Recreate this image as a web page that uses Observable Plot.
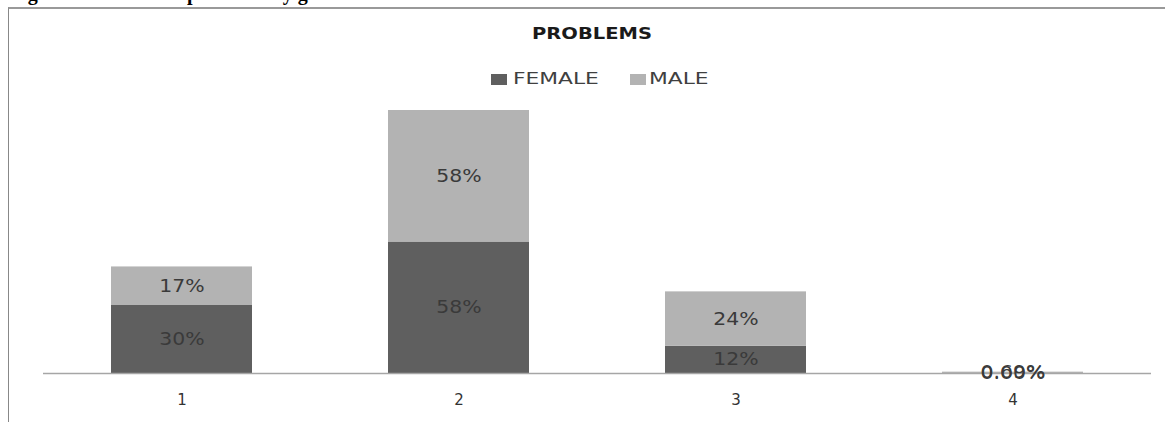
<!DOCTYPE html>
<html>
<head>
<meta charset="utf-8">
<script src="https://cdn.jsdelivr.net/npm/d3@7"></script>
<script src="https://cdn.jsdelivr.net/npm/@observablehq/plot@0.6"></script>
<style>
  html, body { margin: 0; padding: 0; background: #fff; }
  body { width: 1165px; height: 422px; position: relative; overflow: hidden; }
  #caption { position: absolute; left: 10px; top: -17px; font: bold 20px "Liberation Serif", serif; line-height: 20px; color: #000; white-space: nowrap; }
  #frame { position: absolute; left: 8px; top: 7px; width: 1170px; height: 430px; border-top: 2px solid #999; border-left: 1px solid #888; box-sizing: border-box; background: #fff; }
  .stretch { position: absolute; white-space: nowrap; transform-origin: 0 0; }
  #title { left: 532px; top: 27px; font: bold 15px "DejaVu Sans", sans-serif; line-height: 15px; color: #1a1a1a; transform: scaleX(1.3); }
  .legtext { top: 71px; font: 16px "DejaVu Sans", sans-serif; line-height: 16px; color: #404040; transform: scaleX(1.36); }
  .sw { position: absolute; top: 74px; width: 16px; height: 11px; }
  #chart { position: absolute; left: 0; top: 95px; }
</style>
</head>
<body>
<div id="caption">Figure 4.15: Gender problems by gender</div>
<div id="frame"></div>
<div id="title" class="stretch">PROBLEMS</div>
<div id="legend"></div>
<div id="chart"></div>
<script>
// ---- data ----
const categories = ["1", "2", "3", "4"];
const series = ["FEMALE", "MALE"];
const female = [30, 58, 12, 0];
const male = [17, 58, 24, 0.6];
const femaleLabels = ["30%", "58%", "12%", "0.00%"];
const maleLabels = ["17%", "58%", "24%", "0.69%"];
const colors = ["#5f5f5f", "#b3b3b3"];

// ---- build table ----
const rows = [];
categories.forEach((c, i) => {
  rows.push({cat: c, series: series[0], value: female[i], label: femaleLabels[i]});
  rows.push({cat: c, series: series[1], value: male[i], label: maleLabels[i]});
});

// ---- legend (swatch left edges, text left edges) ----
const legendSwatchX = [491, 630];
const legendTextX = [513, 649];
const legend = document.getElementById("legend");
series.forEach((s, i) => {
  const sw = document.createElement("div");
  sw.className = "sw";
  sw.style.left = legendSwatchX[i] + "px";
  sw.style.background = colors[i];
  legend.appendChild(sw);
  const t = document.createElement("div");
  t.className = "stretch legtext";
  t.style.left = legendTextX[i] + "px";
  t.textContent = s;
  legend.appendChild(t);
});

// ---- chart ----
const chart = Plot.plot({
  width: 1165,
  height: 327,
  marginTop: 15,
  marginBottom: 49,
  marginLeft: 43,
  marginRight: 14,
  style: {fontFamily: "DejaVu Sans, sans-serif", background: "transparent"},
  x: {domain: categories, paddingInner: 0.49, paddingOuter: 0.245, label: null},
  y: {domain: [0, 116], axis: null},
  color: {domain: series, range: colors},
  marks: [
    Plot.barY(rows, {x: "cat", y: "value", fill: "series"}),
    Plot.ruleY([0], {stroke: "#a6a6a6", strokeWidth: 1.5}),
    Plot.text(rows, Plot.stackY({x: "cat", y: "value", z: "series", text: "label", fill: "#3a3a3a", fontSize: 17})),
    Plot.axisX({tickSize: 0, tickPadding: 21, fontSize: 15, fill: "#333"})
  ]
});
// widen the in-bar labels horizontally (reference glyphs are stretched)
chart.querySelectorAll('g[aria-label="text"] text').forEach(t => {
  const tr = t.getAttribute("transform");
  if (tr) t.setAttribute("transform", tr + " scale(1.2,1)");
  else {
    const x = +t.getAttribute("x") || 0, y = +t.getAttribute("y") || 0;
    t.setAttribute("transform", `translate(${x},${y}) scale(1.2,1) translate(${-x},${-y})`);
  }
});
document.getElementById("chart").appendChild(chart);
</script>
</body>
</html>
